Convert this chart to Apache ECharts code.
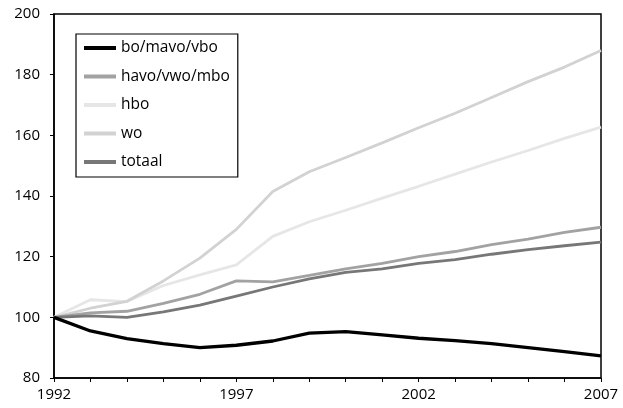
<!DOCTYPE html>
<html>
<head>
<meta charset="utf-8">
<script src="https://cdn.jsdelivr.net/npm/echarts@6/dist/echarts.min.js"></script>
<style>html,body{margin:0;padding:0;background:#fff;}#c{width:623px;height:408px;}</style>
</head>
<body>
<div id="c"></div>
<script>
var years = ['1992','1993','1994','1995','1996','1997','1998','1999','2000','2001','2002','2003','2004','2005','2006','2007'];
var boMavoVbo = [100, 95.5, 93.0, 91.3, 90.0, 90.8, 92.2, 94.8, 95.3, 94.2, 93.1, 92.3, 91.3, 90.0, 88.7, 87.3];
var havoVwoMbo = [100, 101.5, 102.0, 104.6, 107.6, 112.0, 111.7, 113.8, 116.0, 117.8, 120.0, 121.7, 124.0, 125.8, 128.0, 129.7];
var hbo = [100, 105.8, 105.2, 110.5, 114.0, 117.3, 126.7, 131.5, 135.3, 139.3, 143.2, 147.2, 151.2, 155.0, 159.0, 162.7];
var wo = [100, 103.0, 105.3, 112.0, 119.5, 129.0, 141.5, 148.0, 152.7, 157.5, 162.5, 167.3, 172.5, 177.7, 182.5, 188.0];
var totaal = [100, 100.5, 100.0, 101.8, 104.0, 107.0, 110.0, 112.7, 114.8, 116.0, 117.8, 119.0, 120.8, 122.3, 123.6, 124.8];

var FONT = '"Open Sans", "Noto Sans", sans-serif';
function ser(name, data, color, width) {
  return { name: name, type: 'line', data: data, symbol: 'none', smooth: false,
    lineStyle: { color: color, width: width }, itemStyle: { color: color } };
}
var chart = echarts.init(document.getElementById('c'));
chart.setOption({
  animation: false,
  backgroundColor: '#fff',
  grid: { left: 54, right: 22, top: 14, bottom: 30, show: true, borderColor: '#000', borderWidth: 1.5, backgroundColor: 'transparent' },
  legend: {
    orient: 'vertical', left: 76, top: 34,
    backgroundColor: '#fff', borderColor: '#000', borderWidth: 1.2,
    padding: [6, 8, 7, 8], itemGap: 12.5, itemWidth: 32, itemHeight: 4,
    icon: 'rect',
    textStyle: { fontFamily: FONT, fontSize: 15.5, color: '#000' },
    data: ['bo/mavo/vbo', 'havo/vwo/mbo', 'hbo', 'wo', 'totaal']
  },
  xAxis: {
    type: 'category', data: years, boundaryGap: false,
    axisLine: { lineStyle: { color: '#000', width: 1.5 } },
    axisTick: { show: true, interval: 0, length: 4, lineStyle: { color: '#000' } },
    axisLabel: { interval: 4, color: '#000', fontFamily: FONT, fontSize: 15, margin: 9 },
    splitLine: { show: false }
  },
  yAxis: {
    type: 'value', min: 80, max: 200, interval: 20,
    axisLine: { show: true, lineStyle: { color: '#000', width: 1.5 } },
    axisTick: { show: true, length: 4, lineStyle: { color: '#000' } },
    axisLabel: { color: '#000', fontFamily: FONT, fontSize: 15, margin: 14 },
    splitLine: { show: false }
  },
  series: [
    ser('hbo', hbo, '#e6e6e6', 2.8),
    ser('wo', wo, '#d2d2d2', 2.8),
    ser('havo/vwo/mbo', havoVwoMbo, '#a2a2a2', 2.8),
    ser('totaal', totaal, '#777777', 2.8),
    ser('bo/mavo/vbo', boMavoVbo, '#000000', 3.3)
  ]
});
</script>
</body>
</html>
